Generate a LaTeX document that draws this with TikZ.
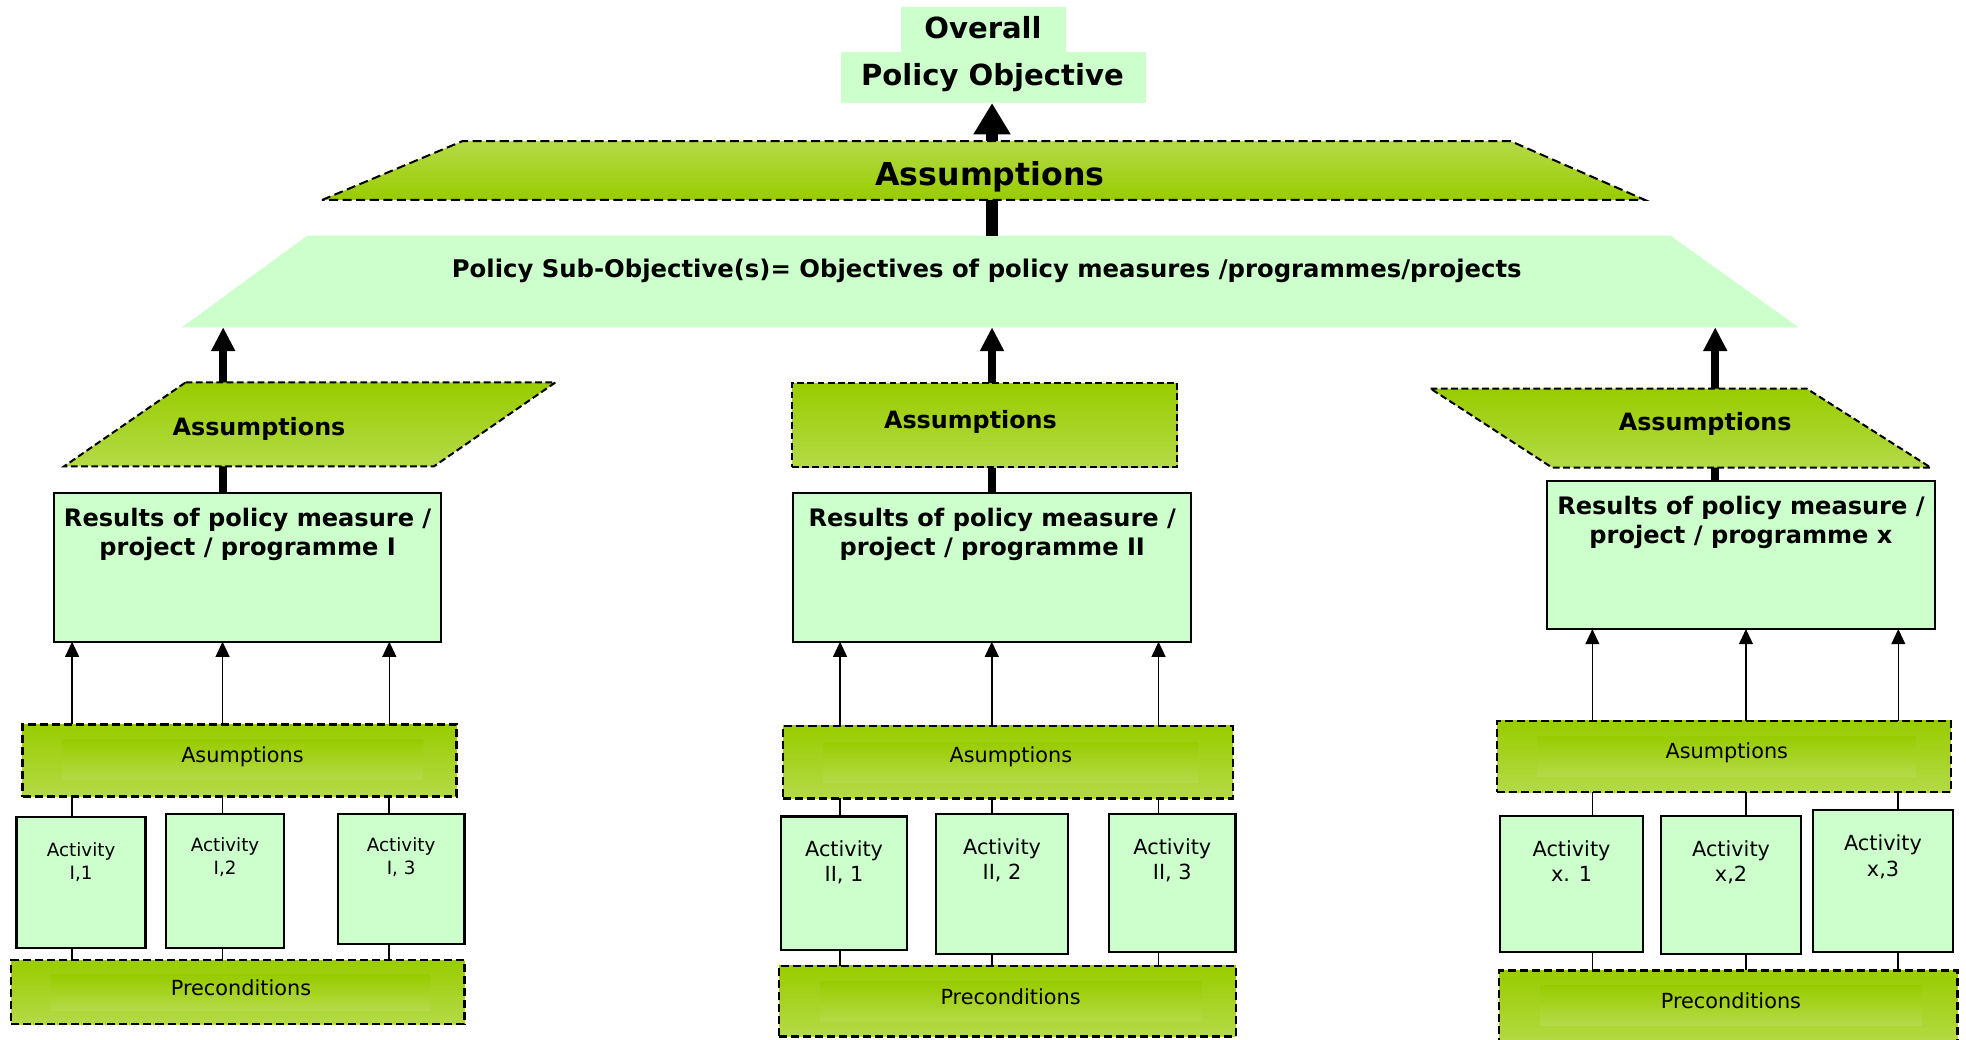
\documentclass[tikz,border=0pt]{standalone}
\usepackage{fontspec}
\setmainfont{DejaVu Sans}
\usetikzlibrary{arrows.meta,fit}

\definecolor{paleg}{RGB}{204,255,204}
\definecolor{gdark}{RGB}{153,204,0}
\definecolor{glight}{RGB}{180,218,72}

\begin{document}
\begin{tikzpicture}[x=0.5pt,y=-0.5pt,
  pale/.style={inner sep=0pt, outer sep=0pt, fill=paleg, draw=none},
  resbox/.style={inner sep=0pt, outer sep=0pt, fill=paleg, draw=black, line width=0.8pt},
  actbox/.style={inner sep=0pt, outer sep=0pt, fill=paleg, draw=black, line width=1pt},
  topgreen/.style={top color=glight, bottom color=gdark, draw=black, line width=0.8pt, dash pattern=on 3.6pt off 1.8pt},
  midgreen/.style={inner sep=0pt, outer sep=0pt, top color=gdark, bottom color=glight, draw=black, line width=0.8pt, dash pattern=on 2.7pt off 1.4pt},
  lowgreen/.style={inner sep=0pt, outer sep=0pt, top color=gdark, bottom color=glight, draw=black, line width=1pt, dash pattern=on 3.2pt off 1.6pt},
  band/.style={inner sep=0pt, outer sep=0pt, top color=gdark, bottom color=glight, draw=none},
  bigarrow/.style={line width=4.8pt, -{Triangle[width=14pt,length=12.5pt]}},
  midarrow/.style={line width=3pt, -{Triangle[width=9pt,length=9.5pt]}},
  thinarrow/.style={line width=0.6pt, -{Triangle[width=5.5pt,length=6pt]}},
  link/.style={line width=0.7pt},
  ttop/.style={font=\bfseries\fontsize{11.6pt}{14pt}\selectfont, anchor=base, inner sep=0pt},
  tbig/.style={font=\bfseries\fontsize{12.6pt}{15pt}\selectfont, anchor=base, inner sep=0pt},
  tmid/.style={font=\bfseries\fontsize{9.5pt}{11.5pt}\selectfont, anchor=base, inner sep=0pt},
  tsub/.style={font=\bfseries\fontsize{9.7pt}{11.5pt}\selectfont, anchor=base, inner sep=0pt},
  tres/.style={font=\bfseries\fontsize{9.6pt}{11.5pt}\selectfont, align=center, anchor=north, inner sep=0pt},
  tlow/.style={font=\fontsize{8.3pt}{10pt}\selectfont, anchor=base, inner sep=0pt},
  tactA/.style={font=\fontsize{7.3pt}{9pt}\selectfont, align=center, anchor=north, inner sep=0pt},
  tactB/.style={font=\fontsize{8.3pt}{10.2pt}\selectfont, align=center, anchor=north, inner sep=0pt}]

\fill[white] (0,0) rectangle (1568,829);
\useasboundingbox (0,0) rectangle (1568,829);

% sub-objective band
\fill[paleg] (145.2,261) coordinate (sub-sw) -- (245,188) coordinate (sub-nw)
  -- (1332.3,188) -- (1434.4,261) -- cycle;

% overall policy objective
\node[pale, fit={(718.6,5.6) (850.2,41.5)}] (overall) {};
\node[pale, fit={(670.7,41.5) (914,82.2)}] (goal) {};

% results of the three measures
\node[resbox, fit={(43.4,393) (352,511.8)}] (res1) {};
\node[resbox, fit={(632.5,393) (950,511.8)}] (res2) {};
\node[resbox, fit={(1234,384) (1543,501.7)}] (res3) {};

% x positions of the thick spines
\coordinate (spine) at (791.2,0);
\coordinate (colA) at (178,0);
\coordinate (colC) at (1368,0);

\draw[bigarrow] (sub-nw -| spine) -- (goal.south -| spine);
\draw[midarrow] (res1.north -| colA) -- (sub-sw -| colA);
\draw[midarrow] (res2.north -| spine) -- (sub-sw -| spine);
\draw[midarrow] (res3.north -| colC) -- (sub-sw -| colC);

% assumption layers
\draw[topgreen] (256.8,159.5) -- (369,112.5) -- (1204.7,112.5) -- (1312,159.5) -- cycle;
\draw[midgreen] (148,305) -- (443,305) -- (346,372) -- (51,372) -- cycle;
\node[midgreen, fit={(631.5,305.5) (939,372.5)}] (asm2) {};
\draw[midgreen] (1141,310) -- (1441,310) -- (1540,373) -- (1238,373) -- cycle;

% lower assumption boxes
\node[lowgreen, fit={(18.1,577.7) (364.2,635.4)}] (as1) {};
\node[band, fit={(49.4,590) (337.4,622)}] {};
\node[lowgreen, fit={(624.5,579) (983.4,636.7)}] (as2) {};
\node[band, fit={(656.4,591.8) (955.5,623.7)}] {};
\node[lowgreen, fit={(1194,575) (1556,631.7)}] (as3) {};
\node[band, fit={(1225.9,587) (1528.1,619)}] {};

% activities
\node[actbox, fit={(13.3,651.6) (116,756)}] (a11) {};
\node[actbox, fit={(132.4,649.2) (226.5,756)}] (a12) {};
\node[actbox, fit={(269.5,649.2) (370.3,752.8)}] (a13) {};
\node[actbox, fit={(622.9,651) (723.4,757.7)}] (a21) {};
\node[actbox, fit={(746.5,649.2) (851.8,760.9)}] (a22) {};
\node[actbox, fit={(884.5,649.2) (985.5,759.1)}] (a23) {};
\node[actbox, fit={(1196.4,650.9) (1310.4,759.3)}] (a31) {};
\node[actbox, fit={(1324.8,650.9) (1436.4,760.9)}] (a32) {};
\node[actbox, fit={(1446,646.2) (1557.6,759.3)}] (a33) {};

% preconditions
\node[lowgreen, fit={(8.8,765.7) (370.3,816.7)}] (pre1) {};
\node[band, fit={(40.7,777.6) (343,805.6)}] {};
\node[lowgreen, fit={(621.3,770.4) (985.9,826.8)}] (pre2) {};
\node[band, fit={(654,783) (958.4,815)}] {};
\node[lowgreen, fit={(1195.5,774) (1561,834)}] (pre3) {};
\node[band, fit={(1228.2,785.6) (1532.7,817.5)}] {};

% columns of the activity links
\coordinate (c11) at (57.5,0);
\coordinate (c12) at (177.5,0);
\coordinate (c13) at (310.5,0);
\coordinate (c21) at (670,0);
\coordinate (c22) at (791,0);
\coordinate (c23) at (924,0);
\coordinate (c31) at (1270,0);
\coordinate (c32) at (1392.5,0);
\coordinate (c33) at (1514,0);

\foreach \g in {1,2,3}{
  \foreach \k in {1,2,3}{
    \draw[thinarrow] (as\g.north -| c\g\k) -- (res\g.south -| c\g\k);
    \draw[link] (as\g.south -| c\g\k) -- (a\g\k.north -| c\g\k);
    \draw[link] (a\g\k.south -| c\g\k) -- (pre\g.north -| c\g\k);
  }
}

% labels
\node[ttop] (t-overall) at (784,31) {Overall};
\node[ttop] (t-goal) at (791.5,68) {Policy Objective};
\node[tbig] (t-asm0) at (789.6,147.6) {Assumptions};
\node[tsub] (t-sub) at (787,221) {Policy Sub-Objective(s)= Objectives of policy measures /programmes/projects};
\node[tmid] (t-asm1) at (206.6,347) {Assumptions};
\node[tmid] (t-asm2) at (774,341.6) {Assumptions};
\node[tmid] (t-asm3) at (1360,343) {Assumptions};

\node[tres] (t-res1) at (197.5,405) {Results of policy measure /\\project / programme I};
\node[tres] (t-res2) at (791.4,405) {Results of policy measure /\\project / programme II};
\node[tres] (t-res3) at (1388.5,395.6) {Results of policy measure /\\project / programme x};

\node[tlow] (t-as1) at (193.4,608.5) {Asumptions};
\node[tlow] (t-as2) at (806.2,608.3) {Asumptions};
\node[tlow] (t-as3) at (1377.2,604.8) {Asumptions};

\node[tlow] (t-pre1) at (192.2,794) {Preconditions};
\node[tlow] (t-pre2) at (806,800.8) {Preconditions};
\node[tlow] (t-pre3) at (1380.5,804.2) {Preconditions};

\node[tactA] (t-a11) at (64.7,672) {Activity\\I,1};
\node[tactA] (t-a12) at (179.5,668) {Activity\\I,2};
\node[tactA] (t-a13) at (319.9,668) {Activity\\I, 3};
\node[tactB] (t-a21) at (673.2,670) {Activity\\II, 1};
\node[tactB] (t-a22) at (799.2,668.4) {Activity\\II, 2};
\node[tactB] (t-a23) at (935,668.4) {Activity\\II, 3};
\node[tactB] (t-a31) at (1253.4,670) {Activity\\x. 1};
\node[tactB] (t-a32) at (1380.6,670) {Activity\\x,2};
\node[tactB] (t-a33) at (1501.8,665.4) {Activity\\x,3};
\end{tikzpicture}
\end{document}
